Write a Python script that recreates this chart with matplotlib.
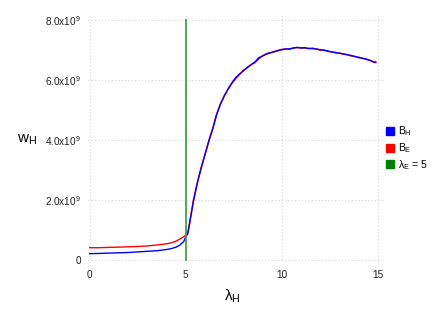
import matplotlib
matplotlib.use("Agg")
import matplotlib.pyplot as plt
from matplotlib.lines import Line2D

plt.rcParams['font.family'] = ['Liberation Sans', 'DejaVu Sans']
plt.rcParams['mathtext.fontset'] = 'custom'
plt.rcParams['mathtext.rm'] = 'Liberation Sans'
plt.rcParams['mathtext.it'] = 'Liberation Sans'
plt.rcParams['mathtext.bf'] = 'Liberation Sans'

# lambda_H values
lam = [0, 0.5, 1, 1.5, 2, 2.5, 3, 3.5, 4, 4.25, 4.5, 4.7, 4.9, 5.0, 5.1, 5.2,
       5.4, 5.6, 5.8, 6.0, 6.2, 6.4, 6.6, 6.8, 7.0, 7.2, 7.4, 7.6, 7.8, 8.0,
       8.2, 8.4, 8.6, 8.8, 9.0, 9.2, 9.4, 9.6, 9.8, 10.0, 10.2, 10.4, 10.6,
       10.8, 11.0, 11.2, 11.4, 11.6, 11.8, 12.0, 12.2, 12.4, 12.6, 12.8, 13.0,
       13.2, 13.4, 13.6, 13.8, 14.0, 14.2, 14.4, 14.6, 14.8, 14.9]

# w_H in units of 1e9
b_h = [0.21, 0.22, 0.23, 0.24, 0.25, 0.27, 0.29, 0.31, 0.35, 0.38, 0.43, 0.50,
       0.62, 0.78, 0.86, 1.20, 1.95, 2.55, 3.05, 3.50, 3.95, 4.35, 4.82, 5.18,
       5.45, 5.70, 5.90, 6.08, 6.20, 6.30, 6.42, 6.50, 6.60, 6.74, 6.80, 6.86,
       6.90, 6.95, 6.97, 7.02, 7.03, 7.04, 7.06, 7.09, 7.06, 7.08, 7.04, 7.06,
       7.03, 7.01, 6.99, 6.97, 6.93, 6.92, 6.89, 6.87, 6.84, 6.82, 6.78, 6.76,
       6.72, 6.70, 6.65, 6.60, 6.60]

b_e = [0.41, 0.41, 0.42, 0.43, 0.44, 0.45, 0.47, 0.50, 0.54, 0.57, 0.63, 0.70,
       0.78, 0.83, 0.90, 1.25, 2.00, 2.58, 3.08, 3.52, 3.98, 4.38, 4.85, 5.20,
       5.47, 5.68, 5.88, 6.04, 6.18, 6.32, 6.40, 6.52, 6.57, 6.70, 6.80, 6.88,
       6.91, 6.93, 6.99, 7.00, 7.04, 7.02, 7.07, 7.07, 7.08, 7.06, 7.06, 7.04,
       7.04, 6.99, 7.00, 6.95, 6.94, 6.90, 6.90, 6.86, 6.85, 6.80, 6.79, 6.74,
       6.73, 6.68, 6.66, 6.58, 6.58]

lam_e = 5
yticks = [0, 2e9, 4e9, 6e9, 8e9]
ytick_labels = ['0', '2.0x10$^9$', '4.0x10$^9$', '6.0x10$^9$', '8.0x10$^9$']
xticks = [0, 5, 10, 15]

fig = plt.figure(figsize=(4.36, 3.27), dpi=100)
ax = fig.add_axes([0.2014, 0.1957, 0.676, 0.757])

ax.plot(lam, [v * 1e9 for v in b_h], color='#0000ff', lw=1.0, zorder=3)
ax.plot(lam, [v * 1e9 for v in b_e], color='#ff0000', lw=1.0, zorder=2)
ax.plot([lam_e, lam_e], [0, 8e9], color='#4a9e4a', lw=1.3, zorder=4)

ax.set_xlim(-0.1, 15.25)
ax.set_ylim(-0.1e9, 8.15e9)
ax.set_xticks(xticks)
ax.set_xticklabels([str(t) for t in xticks])
ax.set_yticks(yticks)
ax.set_yticklabels(ytick_labels)
ax.tick_params(length=0, labelsize=7.2, pad=5, colors='#222222')
for s in ax.spines.values():
    s.set_visible(False)
ax.grid(True, color='#d4d4e2', lw=0.8, linestyle=(0, (1, 2)))
ax.set_axisbelow(True)

ax.set_ylabel('$w_H$', rotation=0, fontsize=11, ha='center', va='center')
ax.yaxis.set_label_coords(-0.206, 0.497)
ax.set_xlabel('$\\lambda_H$', fontsize=11, ha='center', va='center')
ax.xaxis.set_label_coords(0.49, -0.133)

handles = [Line2D([], [], marker='s', ls='none', color='#0000ff', markersize=6),
           Line2D([], [], marker='s', ls='none', color='#ff0000', markersize=6),
           Line2D([], [], marker='s', ls='none', color='#008000', markersize=6)]
labels = ['$B_H$', '$B_E$', '$\\lambda_E$ = 5']
fig.legend(handles, labels, loc='center left', bbox_to_anchor=(0.886, 0.547),
           frameon=False, fontsize=7.5, handlelength=0.8, handletextpad=0.3,
           labelspacing=0.28, borderpad=0, borderaxespad=0)

fig.savefig('out.png', dpi=100)
